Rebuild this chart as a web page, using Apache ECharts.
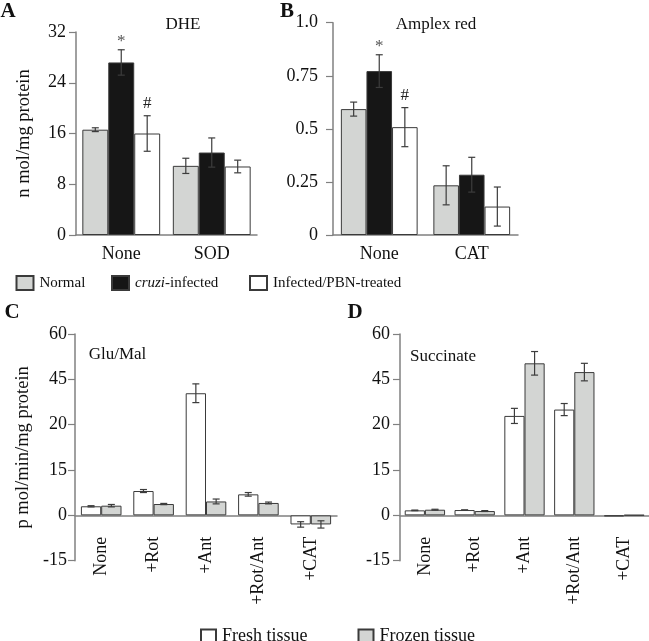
<!DOCTYPE html>
<html><head><meta charset="utf-8">
<script src="https://cdn.jsdelivr.net/npm/echarts@6/dist/echarts.min.js"></script>
<style>html,body{margin:0;padding:0;background:#fff}#c{width:649px;height:641px}</style>
</head><body><div id="c"></div>
<script>
// ---------- data ----------
const catsA = ['None', 'SOD'];
const catsB = ['None', 'CAT'];
const dheNormal = [16.6, 10.9];
const dheNormalErr = [0.3, 1.2];
const dheInfected = [27.2, 13.0];
const dheInfectedErr = [2.0, 2.3];
const dhePBN = [16.0, 10.8];
const dhePBNErr = [2.8, 1.0];
const ampNormal = [0.593, 0.234];
const ampNormalErr = [0.033, 0.092];
const ampInfected = [0.772, 0.284];
const ampInfectedErr = [0.077, 0.082];
const ampPBN = [0.508, 0.134];
const ampPBNErr = [0.092, 0.092];
const marksNormal = ['', ''];
const marksInfected = ['*', ''];
const marksPBN = ['#', ''];

const catsCD = ['None', '+Rot', '+Ant', '+Rot/Ant', '+CAT'];
const gluFresh = [3.0, 8.05, 40.4, 6.95, -3.0];
const gluFreshErr = [0.2, 0.5, 3.1, 0.6, 0.9];
const gluFrozen = [3.2, 3.75, 4.6, 4.1, -3.0];
const gluFrozenErr = [0.4, 0.2, 0.8, 0.3, 1.2];
const sucFresh = [1.65, 1.76, 32.9, 35.0, -0.3];
const sucFreshErr = [0.1, 0.05, 2.5, 2.0, 0];
const sucFrozen = [1.87, 1.43, 50.3, 47.4, 0.1];
const sucFrozenErr = [0.15, 0.15, 3.9, 2.9, 0];
const tickLabelsCD = ['-15', '0', '15', '20', '45', '60'];

// ---------- style ----------
const FONT = 'Liberation Serif';
const C_GRAY = '#d3d5d3', C_BLACK = '#161616', C_WHITE = '#ffffff';
const C_EDGE = '#3a3a3a', C_AXIS = '#808080', C_ERR = '#3c3c3c';

function barSeries(name, g, data, color, gap) {
  return {
    type: 'bar', name: name, xAxisIndex: g, yAxisIndex: g, data: data,
    barGap: '0%', barCategoryGap: gap,
    itemStyle: { color: color, borderColor: C_EDGE, borderWidth: 1 },
    z: 2
  };
}
function errSeries(g, vals, errs, marks, k, n, gapFrac) {
  return {
    type: 'custom', xAxisIndex: g, yAxisIndex: g, z: 5, silent: true,
    encode: { x: 0, y: 1 },
    data: vals.map((v, i) => [i, v, errs[i]]),
    renderItem: function (params, api) {
      const i = api.value(0), v = api.value(1), e = api.value(2);
      const mark = marks ? marks[i] : '';
      const c = api.coord([i, v]);
      const band = api.size([1, 0])[0];
      const bw = band * (1 - gapFrac) / n;
      const x = c[0] + (k - (n - 1) / 2) * bw;
      const yTop = api.coord([i, v + e])[1];
      const yBot = api.coord([i, v - e])[1];
      const cap = 3.5;
      const st = { stroke: C_ERR, lineWidth: 1.2 };
      const ch = [];
      if (e > 0) {
        ch.push({ type: 'line', shape: { x1: x, y1: yTop, x2: x, y2: yBot }, style: st });
        ch.push({ type: 'line', shape: { x1: x - cap, y1: yTop, x2: x + cap, y2: yTop }, style: st });
        ch.push({ type: 'line', shape: { x1: x - cap, y1: yBot, x2: x + cap, y2: yBot }, style: st });
      }
      if (mark) {
        ch.push({ type: 'text', x: x, y: Math.min(yTop, yBot) - (mark === '*' ? 0 : 4),
          style: { text: mark, fill: mark === '*' ? '#555' : '#222', font: '17px ' + FONT,
                   align: 'center', verticalAlign: 'bottom' } });
      }
      return { type: 'group', children: ch };
    }
  };
}

const grids = [
  { left: 76, top: 32, width: 181, height: 203 },
  { left: 333, top: 22.7, width: 185, height: 212.3 },
  { left: 75, top: 334, width: 262, height: 226.7 },
  { left: 400, top: 334, width: 249, height: 226.7 }
];
function xAx(g, cats, rotate, margin) {
  return {
    type: 'category', gridIndex: g, data: cats,
    axisLine: { onZero: true, lineStyle: { color: C_AXIS, width: 1.5 } },
    axisTick: { show: false },
    axisLabel: { color: '#111', fontFamily: FONT, fontSize: 18, rotate: rotate, margin: margin, interval: 0 },
    splitLine: { show: false }
  };
}
function yAx(g, min, max, interval, margin, fmt, name, nameGap) {
  return {
    type: 'value', gridIndex: g, min: min, max: max, interval: interval,
    axisLine: { show: true, onZero: false, lineStyle: { color: C_AXIS, width: 1.5 } },
    axisTick: { show: true, length: 7, lineStyle: { color: C_AXIS, width: 1.2 } },
    axisLabel: { color: '#111', fontFamily: FONT, fontSize: 18, margin: margin, formatter: fmt },
    splitLine: { show: false },
    name: name, nameLocation: 'middle', nameGap: nameGap, nameRotate: 90,
    nameTextStyle: { color: '#111', fontFamily: FONT, fontSize: 18.5 }
  };
}
const fmtCD = v => tickLabelsCD[Math.round((v + 15) / 15)];

const gapA = 0.14, gapB = 0.17, gapC = 0.225, gapD = 0.19;
const series = [
  barSeries('Normal', 0, dheNormal, C_GRAY, '14%'),
  barSeries('cruzi-infected', 0, dheInfected, C_BLACK, '14%'),
  barSeries('Infected/PBN-treated', 0, dhePBN, C_WHITE, '14%'),
  errSeries(0, dheNormal, dheNormalErr, marksNormal, 0, 3, gapA),
  errSeries(0, dheInfected, dheInfectedErr, marksInfected, 1, 3, gapA),
  errSeries(0, dhePBN, dhePBNErr, marksPBN, 2, 3, gapA),
  barSeries('Normal', 1, ampNormal, C_GRAY, '17%'),
  barSeries('cruzi-infected', 1, ampInfected, C_BLACK, '17%'),
  barSeries('Infected/PBN-treated', 1, ampPBN, C_WHITE, '17%'),
  errSeries(1, ampNormal, ampNormalErr, marksNormal, 0, 3, gapB),
  errSeries(1, ampInfected, ampInfectedErr, marksInfected, 1, 3, gapB),
  errSeries(1, ampPBN, ampPBNErr, marksPBN, 2, 3, gapB),
  barSeries('Fresh tissue', 2, gluFresh, C_WHITE, '22.5%'),
  barSeries('Frozen tissue', 2, gluFrozen, C_GRAY, '22.5%'),
  errSeries(2, gluFresh, gluFreshErr, null, 0, 2, gapC),
  errSeries(2, gluFrozen, gluFrozenErr, null, 1, 2, gapC),
  barSeries('Fresh tissue', 3, sucFresh, C_WHITE, '19%'),
  barSeries('Frozen tissue', 3, sucFrozen, C_GRAY, '19%'),
  errSeries(3, sucFresh, sucFreshErr, null, 0, 2, gapD),
  errSeries(3, sucFrozen, sucFrozenErr, null, 1, 2, gapD)
];

function leg(name, left, top, fs, iw, ih, fmt) {
  const l = {
    data: [name], left: left, top: top, orient: 'horizontal', padding: 0,
    itemWidth: iw, itemHeight: ih, itemGap: 0, icon: 'rect', selectedMode: false,
    textStyle: { color: '#111', fontFamily: FONT, fontSize: fs, padding: [0, 0, 0, 1],
      rich: { it: { fontStyle: 'italic', fontFamily: FONT, fontSize: fs, color: '#111' } } }
  };
  if (fmt) l.formatter = fmt;
  return l;
}

const txt = (t, x, y, size, bold, align) => ({
  type: 'text', x: x, y: y,
  style: { text: t, font: (bold ? 'bold ' : '') + size + 'px ' + FONT, fill: '#111',
           align: align || 'center', verticalAlign: 'middle' }
});

const option = {
  animation: false,
  backgroundColor: '#fff',
  grid: grids,
  xAxis: [xAx(0, catsA, 0, 10), xAx(1, catsB, 0, 10), xAx(2, catsCD, 90, -24), xAx(3, catsCD, 90, -24)],
  yAxis: [
    yAx(0, 0, 32, 8, 10, null, 'n mol/mg protein', 42),
    yAx(1, 0, 1.0, 0.25, 15, v => (v === 0 ? '0' : v === 1 ? '1.0' : String(v)), '', 0),
    yAx(2, -15, 60, 15, 8, fmtCD, 'p mol/min/mg protein', 42),
    yAx(3, -15, 60, 15, 10, fmtCD, '', 0)
  ],
  legend: [
    leg('Normal', 15.5, 275, 15, 17, 14),
    leg('cruzi-infected', 111, 275, 15, 17, 14, () => '{it|cruzi}-infected'),
    leg('Infected/PBN-treated', 249, 275, 15, 17, 14),
    leg('Fresh tissue', 200, 627, 18, 15, 13),
    leg('Frozen tissue', 357.5, 627, 18, 15, 13)
  ],
  graphic: [
    txt('A', 8, 12, 21, true),
    txt('B', 287, 12, 21, true),
    txt('C', 12, 313, 21, true),
    txt('D', 355, 313, 21, true),
    txt('DHE', 183, 25, 17, false),
    txt('Amplex red', 436, 25, 17, false),
    txt('Glu/Mal', 117.5, 355, 17, false),
    txt('Succinate', 443, 357, 17, false)
  ],
  series: series
};
const chart = echarts.init(document.getElementById('c'), null, { renderer: 'canvas' });
chart.setOption(option);
</script>
</body></html>
